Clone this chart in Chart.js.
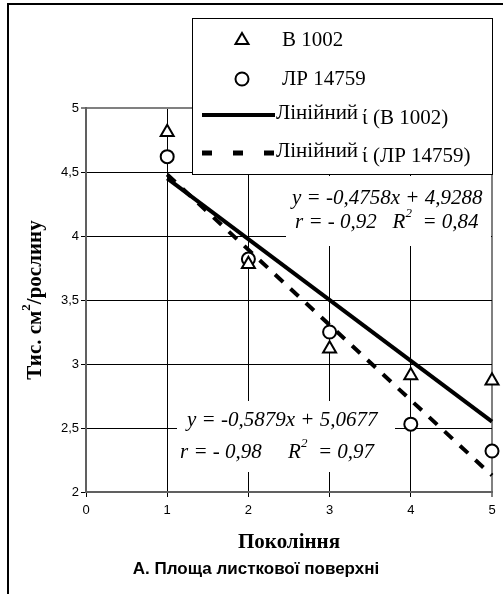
<!DOCTYPE html>
<html>
<head>
<meta charset="utf-8">
<script src="https://cdn.jsdelivr.net/npm/chart.js@4.4.1/dist/chart.umd.min.js"></script>
<style>
  body { margin: 0; background: #fff; }
  #wrap { width: 503px; height: 594px; }
</style>
</head>
<body>
<div id="wrap"><canvas id="chart" width="503" height="594"></canvas></div>
<script>
// values
const generations = [1, 2, 3, 4, 5];
const seriesB1002 = [4.81, 3.78, 3.12, 2.91, 2.87];
const seriesLR14759 = [4.62, 3.82, 3.25, 2.53, 2.32];
// trend line ends (x = 1 and x = 5)
const trendX = [1, 5];
const trendB1002 = [4.45, 2.55];
const trendLR14759 = [4.48, 2.13];

const xTicks = [0, 1, 2, 3, 4, 5];
const yTicks = [2, 2.5, 3, 3.5, 4, 4.5, 5];

const seriesNames = ["В 1002", "ЛР 14759"];
const trendNames = ["Лінійний", "ί (В 1002)", "ί (ЛР 14759)"];
const xTitle = "Покоління";
const yTitle = ["Тис. см", "2", "/рослину"];
const chartTitle = "А. Площа листкової поверхні";

const SERIF = '"Times New Roman", "Liberation Serif", serif';
const SANS = '"Liberation Sans", Arial, sans-serif';

function pts(xs, ys) {
  return xs.map((x, i) => ({ x: x, y: ys[i] }));
}

// draws text pieces one after another (for superscripts)
function runs(ctx, x, y, parts) {
  ctx.textAlign = "left";
  ctx.textBaseline = "middle";
  parts.forEach((p) => {
    ctx.font = p.font;
    ctx.fillText(p.text, x, y + (p.dy || 0));
    x += ctx.measureText(p.text).width;
  });
}
function runsWidth(ctx, parts) {
  let w = 0;
  parts.forEach((p) => { ctx.font = p.font; w += ctx.measureText(p.text).width; });
  return w;
}

const extras = {
  id: "extras",
  afterDraw(chart) {
    const ctx = chart.ctx;
    ctx.save();

    // outer frame (top and left only)
    ctx.strokeStyle = "#000";
    ctx.lineWidth = 2;
    ctx.beginPath();
    ctx.moveTo(8, 596);
    ctx.lineTo(8, 4);
    ctx.lineTo(505, 4);
    ctx.stroke();

    // legend
    ctx.fillStyle = "#fff";
    ctx.fillRect(192, 18, 301, 157);
    ctx.strokeStyle = "#000";
    ctx.lineWidth = 1;
    ctx.strokeRect(192.5, 18.5, 300, 156);

    ctx.fillStyle = "#000";
    const it = "italic 21px " + SERIF;
    const rg = "normal 400 21px " + SERIF;

    ctx.lineWidth = 2;
    ctx.beginPath();
    ctx.moveTo(242, 33);
    ctx.lineTo(248.5, 44);
    ctx.lineTo(235.5, 44);
    ctx.closePath();
    ctx.stroke();
    ctx.beginPath();
    ctx.arc(242, 79, 6.5, 0, Math.PI * 2);
    ctx.stroke();

    ctx.lineWidth = 4;
    ctx.beginPath();
    ctx.moveTo(202, 115);
    ctx.lineTo(275, 115);
    ctx.stroke();
    ctx.lineWidth = 5;
    ctx.setLineDash([10, 21]);
    ctx.beginPath();
    ctx.moveTo(202, 153);
    ctx.lineTo(276, 153);
    ctx.stroke();
    ctx.setLineDash([]);

    runs(ctx, 282, 40, [{ text: seriesNames[0], font: rg }]);
    runs(ctx, 282, 79, [{ text: seriesNames[1], font: rg }]);
    runs(ctx, 276, 113, [{ text: trendNames[0], font: rg }]);
    runs(ctx, 362, 118, [{ text: trendNames[1], font: rg }]);
    runs(ctx, 276, 151, [{ text: trendNames[0], font: rg }]);
    runs(ctx, 362, 156, [{ text: trendNames[2], font: rg }]);

    // equation boxes
    ctx.fillStyle = "#fff";
    ctx.fillRect(286, 176, 205, 70);
    ctx.fillRect(177, 401, 218, 71);
    ctx.fillStyle = "#000";
    const sup = "italic 13px " + SERIF;
    runs(ctx, 292, 198, [{ text: "y = -0,4758x + 4,9288", font: it }]);
    runs(ctx, 295, 222, [
      { text: "r = - 0,92   R", font: it },
      { text: "2", font: sup, dy: -8 },
      { text: "  = 0,84", font: it }
    ]);
    runs(ctx, 187, 420, [{ text: "y = -0,5879x + 5,0677", font: it }]);
    runs(ctx, 180, 452, [
      { text: "r = - 0,98     R", font: it },
      { text: "2", font: sup, dy: -8 },
      { text: "  = 0,97", font: it }
    ]);

    // axis titles
    ctx.textAlign = "center";
    ctx.textBaseline = "middle";
    ctx.font = "bold 21px " + SERIF;
    ctx.fillText(xTitle, 289, 543);

    const yParts = [
      { text: yTitle[0], font: "bold 21px " + SERIF },
      { text: yTitle[1], font: "bold 13px " + SERIF, dy: -9 },
      { text: yTitle[2], font: "bold 21px " + SERIF }
    ];
    ctx.save();
    ctx.translate(36, 300);
    ctx.rotate(-Math.PI / 2);
    runs(ctx, -runsWidth(ctx, yParts) / 2, 0, yParts);
    ctx.restore();

    ctx.textAlign = "center";
    ctx.font = "bold 17px " + SANS;
    ctx.fillText(chartTitle, 256, 569);

    ctx.restore();
  }
};

function gridColor(edge) {
  return (c) => (c.tick && c.tick.value === edge ? "#808080" : "#000");
}
function gridWidth(edge) {
  return (c) => (c.tick && c.tick.value === edge ? 2 : 1);
}

new Chart(document.getElementById("chart"), {
  type: "scatter",
  data: {
    datasets: [
      {
        label: seriesNames[0],
        data: pts(generations, seriesB1002),
        pointStyle: "triangle",
        pointRadius: 7.5,
        pointBorderWidth: 2,
        borderColor: "#000",
        backgroundColor: "#fff",
        showLine: false,
        clip: false
      },
      {
        label: seriesNames[1],
        data: pts(generations, seriesLR14759),
        pointStyle: "circle",
        pointRadius: 6.5,
        pointBorderWidth: 2,
        borderColor: "#000",
        backgroundColor: "#fff",
        showLine: false,
        clip: false
      },
      {
        label: trendNames[0] + " " + trendNames[1],
        data: pts(trendX, trendB1002),
        showLine: true,
        pointRadius: 0,
        borderColor: "#000",
        borderWidth: 4,
        clip: false
      },
      {
        label: trendNames[0] + " " + trendNames[2],
        data: pts(trendX, trendLR14759),
        showLine: true,
        pointRadius: 0,
        borderColor: "#000",
        borderWidth: 4,
        borderDash: [11, 10],
        clip: false
      }
    ]
  },
  options: {
    responsive: false,
    animation: false,
    devicePixelRatio: 1,
    layout: { padding: { left: 0, right: 11, top: 108, bottom: 0 } },
    plugins: { legend: { display: false }, tooltip: { enabled: false } },
    scales: {
      x: {
        type: "linear",
        min: 0,
        max: 5,
        afterBuildTicks: (s) => { s.ticks = xTicks.map((v) => ({ value: v })); },
        afterFit: (s) => { s.height = 102; },
        ticks: { color: "#000", font: { family: SANS, size: 13 }, padding: 6 },
        grid: { color: gridColor(5), lineWidth: gridWidth(5), tickColor: "#000", tickWidth: 1, tickLength: 5 },
        border: { color: "#606060", width: 2 }
      },
      y: {
        type: "linear",
        min: 2,
        max: 5,
        afterBuildTicks: (s) => { s.ticks = yTicks.map((v) => ({ value: v })); },
        afterFit: (s) => { s.width = 86; },
        ticks: {
          color: "#000",
          font: { family: SANS, size: 13 },
          padding: 2,
          callback: (v) => String(v).replace(".", ",")
        },
        grid: { color: gridColor(5), lineWidth: gridWidth(5), tickColor: "#000", tickWidth: 1, tickLength: 5 },
        border: { color: "#606060", width: 2 }
      }
    }
  },
  plugins: [extras]
});
</script>
</body>
</html>
